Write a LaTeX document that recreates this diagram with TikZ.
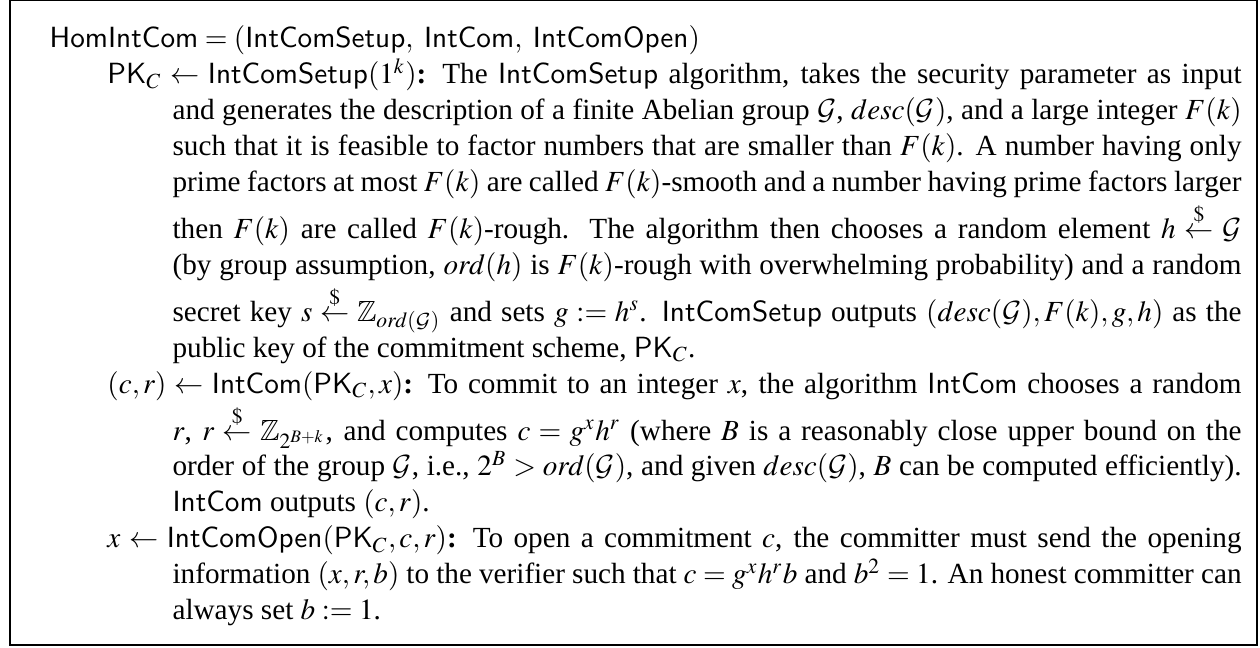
\documentclass[tikz,border=0pt]{standalone}
\usepackage{amsmath,amssymb}
\usepackage{mathptmx}
\DeclareMathAlphabet{\mathcal}{OMS}{cmsy}{m}{n}
\usepackage[no-math]{fontspec}
\setmainfont{Liberation Serif}
\newcommand{\alg}[1]{\textsf{#1}}
\newcommand{\rnd}{\stackrel{\$}{\leftarrow}}
\newcommand{\cG}{\mathcal{G}}
\tikzset{framebox/.style={draw=black, line width=0.6pt}}
\begin{document}
\begin{tikzpicture}[x=1pt,y=1pt]
\useasboundingbox (0,0) rectangle (431.5,221.9);
\node[framebox, minimum width=427pt, minimum height=220.8pt, anchor=south west, inner sep=0] (frame) at (3.1,0.6) {};
\node[anchor=base west, inner sep=0] (body) at (16.8,205.5) {\parbox[t]{408.2pt}{%
\fontsize{10}{12.3}\selectfont
\setlength{\parindent}{0pt}\setlength{\parskip}{0pt}\lineskip=1.5pt
$\alg{HomIntCom} = (\alg{IntComSetup},\ \alg{IntCom},\ \alg{IntComOpen})$\par
\leftskip=19.8pt \hangindent=22.3pt \hangafter=1
$\alg{PK}_C \leftarrow \alg{IntComSetup}(1^k)$\textbf{:} The \alg{IntComSetup} algorithm, takes the security parameter as input\linebreak
and generates the description of a finite Abelian group $\cG$, $desc(\cG)$, and a large integer $F(k)$\linebreak
such that it is feasible to factor numbers that are smaller than $F(k)$. A number having only\linebreak
prime factors at most $F(k)$ are called $F(k)$-smooth and a number having prime factors larger\linebreak
then $F(k)$ are called $F(k)$-rough. The algorithm then chooses a random element $h \rnd \cG$\linebreak
(by group assumption, $ord(h)$ is $F(k)$-rough with overwhelming probability) and a random\linebreak
secret key $s \rnd \mathbb{Z}_{ord(\cG)}$ and sets $g := h^s$. \alg{IntComSetup} outputs $(desc(\cG),F(k),g,h)$ as the\linebreak
public key of the commitment scheme, $\alg{PK}_C$.\par
\leftskip=19.8pt \hangindent=22.3pt \hangafter=1
$(c,r) \leftarrow \alg{IntCom}(\alg{PK}_C,x)$\textbf{:} To commit to an integer $x$, the algorithm \alg{IntCom} chooses a random\linebreak
$r$, $r \rnd \mathbb{Z}_{2^{B+k}}$, and computes $c = g^x h^r$ (where $B$ is a reasonably close upper bound on the\linebreak
order of the group $\cG$, i.e., $2^B > ord(\cG)$, and given $desc(\cG)$, $B$ can be computed efficiently).\linebreak
\alg{IntCom} outputs $(c,r)$.\par
\leftskip=19.8pt \hangindent=22.3pt \hangafter=1
$x \leftarrow \alg{IntComOpen}(\alg{PK}_C,c,r)$\textbf{:} To open a commitment $c$, the committer must send the opening\linebreak
information $(x,r,b)$ to the verifier such that $c = g^x h^r b$ and $b^2 = 1$. An honest committer can\linebreak
always set $b := 1$.\par
}};
\end{tikzpicture}
\end{document}
